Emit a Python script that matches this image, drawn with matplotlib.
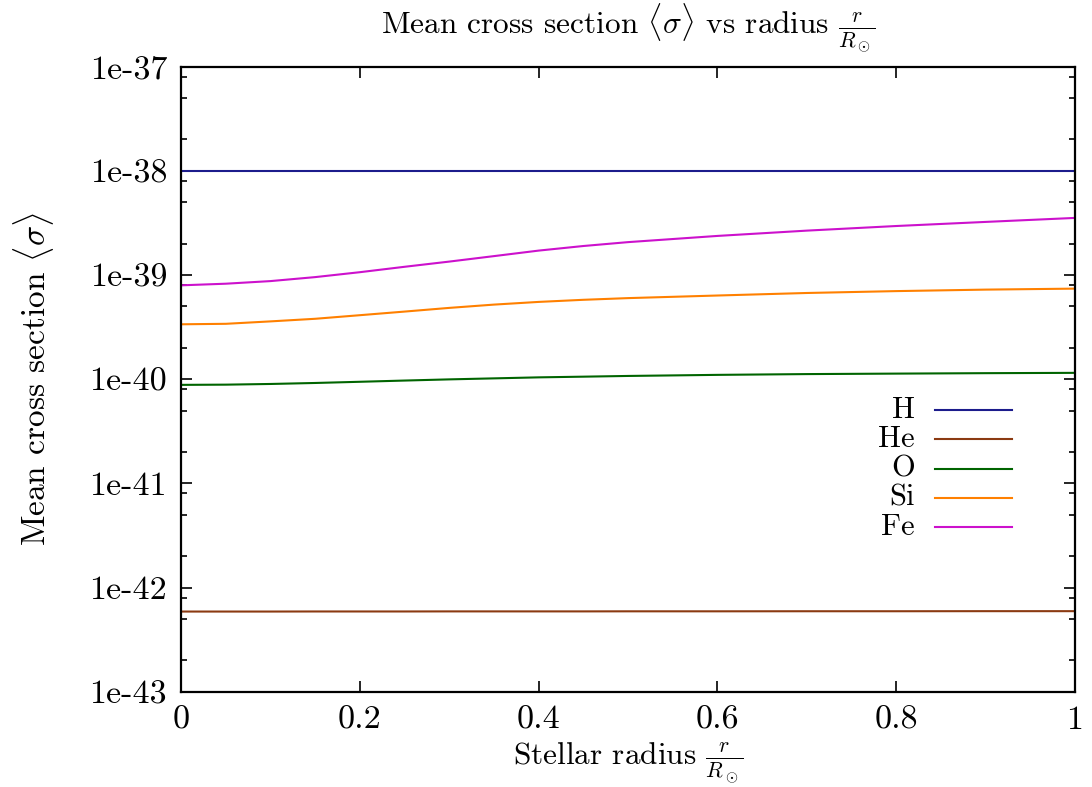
import numpy as np
import matplotlib
matplotlib.use('Agg')
import matplotlib.pyplot as plt
from matplotlib.ticker import LogLocator, FixedLocator, NullFormatter

plt.rcParams['font.family'] = 'serif'
plt.rcParams['font.serif'] = ['cmr10']
plt.rcParams['mathtext.fontset'] = 'cm'
plt.rcParams['axes.formatter.use_mathtext'] = True

# radius r/R_sun
radius = [0.0, 0.05, 0.1, 0.15, 0.2, 0.25, 0.3, 0.35, 0.4, 0.45, 0.5,
          0.6, 0.7, 0.8, 0.9, 1.0]

# mean cross sections
sigma_H = [1.0e-38] * 16
sigma_He = [5.88e-43, 5.88e-43, 5.88e-43, 5.89e-43, 5.89e-43, 5.89e-43, 5.90e-43, 5.90e-43,
            5.90e-43, 5.90e-43, 5.91e-43, 5.91e-43, 5.92e-43, 5.92e-43, 5.93e-43, 5.93e-43]
sigma_O = [8.818e-41, 8.86e-41, 8.995e-41, 9.195e-41, 9.44e-41, 9.70e-41, 9.956e-41, 1.018e-40,
           1.041e-40, 1.057e-40, 1.074e-40, 1.100e-40, 1.119e-40, 1.131e-40, 1.142e-40, 1.150e-40]
sigma_Si = [3.364e-40, 3.40e-40, 3.587e-40, 3.799e-40, 4.113e-40, 4.455e-40, 4.834e-40, 5.198e-40,
            5.517e-40, 5.78e-40, 6.0e-40, 6.355e-40, 6.72e-40, 7.005e-40, 7.24e-40, 7.40e-40]
sigma_Fe = [7.96e-40, 8.25e-40, 8.74e-40, 9.545e-40, 1.064e-39, 1.199e-39, 1.345e-39, 1.518e-39,
            1.715e-39, 1.898e-39, 2.068e-39, 2.372e-39, 2.667e-39, 2.953e-39, 3.233e-39, 3.532e-39]

names = ['H', 'He', 'O', 'Si', 'Fe']
colors = ['#1c1c8c', '#8b3a12', '#006400', '#ff8000', '#cc11cc']
series = [sigma_H, sigma_He, sigma_O, sigma_Si, sigma_Fe]

ytick_vals = [1e-43, 1e-42, 1e-41, 1e-40, 1e-39, 1e-38, 1e-37]
ytick_labels = ['1e-43', '1e-42', '1e-41', '1e-40', '1e-39', '1e-38', '1e-37']
xtick_vals = [0, 0.2, 0.4, 0.6, 0.8, 1]
xtick_labels = ['0', '0.2', '0.4', '0.6', '0.8', '1']

fig = plt.figure(figsize=(10.92, 7.87), dpi=100)
ax = fig.add_axes([0.1658, 0.1211, 0.8186, 0.7942])

for vals, c in zip(series, colors):
    ax.plot(radius, vals, color=c, lw=1.5)

ax.set_yscale('log')
ax.set_xlim(0, 1)
ax.set_ylim(1e-43, 1e-37)
ax.yaxis.set_major_locator(FixedLocator(ytick_vals))
ax.set_yticklabels(ytick_labels)
ax.yaxis.set_minor_locator(LogLocator(base=10, subs=(2.0, 5.0, 8.0), numticks=20))
ax.yaxis.set_minor_formatter(NullFormatter())
ax.set_xticks(xtick_vals)
ax.set_xticklabels(xtick_labels)

ax.tick_params(which='both', direction='in', top=True, right=True, labelsize=24.5, width=1.2)
ax.tick_params(which='major', length=8, pad=10)
ax.tick_params(which='minor', length=4)
for sp in ax.spines.values():
    sp.set_linewidth(1.6)

ax.set_title(r'Mean cross section $\langle\sigma\rangle$ vs radius $\frac{r}{R_\odot}$',
             fontsize=22.5, pad=24)
ax.set_xlabel(r'Stellar radius $\frac{r}{R_\odot}$', fontsize=22.5, labelpad=4)
ax.set_ylabel(r'Mean cross section $\langle\sigma\rangle$', fontsize=24, labelpad=24)

# key, right-aligned labels like gnuplot
y0, dy = 0.4507, 0.0469
for i, (name, c) in enumerate(zip(names, colors)):
    y = y0 - i * dy
    ax.text(0.821, y, name, transform=ax.transAxes, ha='right', va='center', fontsize=22)
    ax.plot([0.8434, 0.9295], [y, y], transform=ax.transAxes, color=c, lw=1.5)

fig.savefig('out.png', dpi=100)
